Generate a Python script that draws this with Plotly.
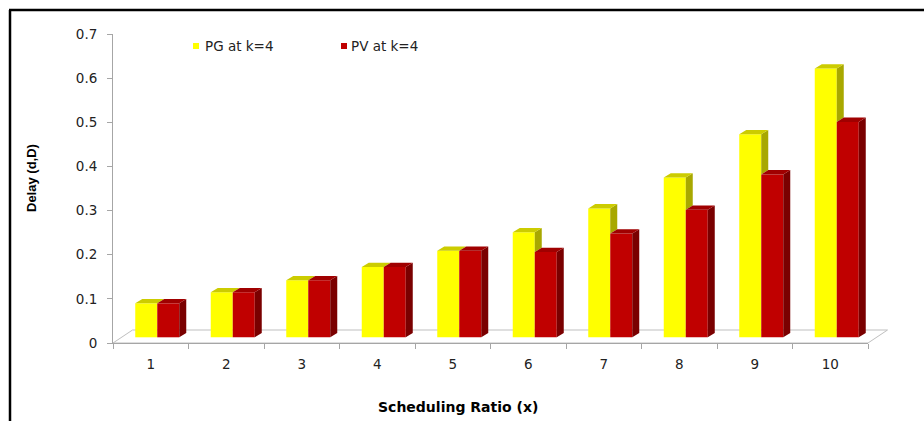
import plotly.graph_objects as go

# ---- data ----
categories = [1, 2, 3, 4, 5, 6, 7, 8, 9, 10]
series_names = ["PG at k=4", "PV at k=4"]
pg_delay = [0.077, 0.102, 0.129, 0.159, 0.196, 0.238, 0.292, 0.362, 0.460, 0.609]
pv_delay = [0.077, 0.102, 0.129, 0.159, 0.196, 0.193, 0.235, 0.289, 0.369, 0.488]
y_ticks = [0, 0.1, 0.2, 0.3, 0.4, 0.5, 0.6, 0.7]
y_tick_text = ["0", "0.1", "0.2", "0.3", "0.4", "0.5", "0.6", "0.7"]
x_title = "Scheduling Ratio (x)"
y_title = "Delay (d,D)"

# ---- colours (front, top, side) ----
PG_COLORS = ("#FFFF00", "#CCCC00", "#A8A800")
PV_COLORS = ("#C00000", "#A00000", "#7A0000")
AXIS_GRAY = "#A6A6A6"
TEXT_COLOR = "#222222"

# ---- page geometry ----
W, H = 924, 421
ML, MR, MT, MB = 113, 56, 34, 78
PW, PH = W - ML - MR, H - MT - MB
X_RANGE = [0.5, 10.5]
Y_RANGE = [0.0, 0.7]
ux = PW / (X_RANGE[1] - X_RANGE[0])   # pixels per x unit
uy = PH / (Y_RANGE[1] - Y_RANGE[0])   # pixels per y unit


def pxx(px):
    return (px - ML) / PW


def pxy(py):
    return (H - MB - py) / PH


def d2p(x, y):
    return ((x - X_RANGE[0]) / (X_RANGE[1] - X_RANGE[0]),
            (y - Y_RANGE[0]) / (Y_RANGE[1] - Y_RANGE[0]))


# pseudo-3D proportions (converted to axis units)
BAR_W = 22 / ux
SHIFT_X = 6.5 / ux
BASE = 5.7 / uy
DEPTH_X = 7 / ux
DEPTH_Y = 4.3 / uy
FLOOR_DX = 19.5 / ux
FLOOR_DY = 13 / uy

fig = go.Figure()


def face_trace(xs, ys, color):
    return go.Scatter(x=xs, y=ys, mode="lines", fill="toself", fillcolor=color,
                      line=dict(width=0, color=color), hoverinfo="skip",
                      showlegend=False)


def top_faces(lefts, values):
    xs, ys = [], []
    for xl, v in zip(lefts, values):
        t = BASE + v
        xr = xl + BAR_W
        xs += [xl, xr, xr + DEPTH_X, xl + DEPTH_X, xl, None]
        ys += [t, t, t + DEPTH_Y, t + DEPTH_Y, t, None]
    return xs, ys


def side_faces(lefts, values, lows):
    xs, ys = [], []
    for xl, v, lo in zip(lefts, values, lows):
        if v <= lo:
            continue
        xr = xl + BAR_W
        b, t = BASE + lo, BASE + v
        xs += [xr, xr, xr + DEPTH_X, xr + DEPTH_X, xr, None]
        ys += [b, t, t + DEPTH_Y, b + DEPTH_Y, b, None]
    return xs, ys


pg_left = [c + SHIFT_X - BAR_W for c in categories]
pv_left = [c + SHIFT_X for c in categories]

# front faces
fig.add_trace(go.Bar(x=categories, y=pg_delay, base=BASE, width=BAR_W,
                     offset=SHIFT_X - BAR_W, name=series_names[0],
                     marker=dict(color=PG_COLORS[0], line=dict(width=0)),
                     showlegend=False))
fig.add_trace(go.Bar(x=categories, y=pv_delay, base=BASE, width=BAR_W,
                     offset=SHIFT_X, name=series_names[1],
                     marker=dict(color=PV_COLORS[0], line=dict(width=0)),
                     showlegend=False))

# PG side only shows where it rises above the PV column
sx, sy = side_faces(pg_left, pg_delay, pv_delay)
fig.add_trace(face_trace(sx, sy, PG_COLORS[2]))
tx, ty = top_faces(pg_left, pg_delay)
fig.add_trace(face_trace(tx, ty, PG_COLORS[1]))
sx, sy = side_faces(pv_left, pv_delay, [0] * len(pv_delay))
fig.add_trace(face_trace(sx, sy, PV_COLORS[2]))
tx, ty = top_faces(pv_left, pv_delay)
fig.add_trace(face_trace(tx, ty, PV_COLORS[1]))

shapes = []

# floor parallelogram
corners = [(X_RANGE[0], 0), (X_RANGE[1], 0),
           (X_RANGE[1] + FLOOR_DX, FLOOR_DY), (X_RANGE[0] + FLOOR_DX, FLOOR_DY)]
pc = [d2p(x, y) for x, y in corners]
path = "M " + " L ".join(f"{a:.5f},{b:.5f}" for a, b in pc) + " Z"
shapes.append(dict(type="path", xref="paper", yref="paper", path=path,
                   fillcolor="white", line=dict(color="#BFBFBF", width=1),
                   layer="below"))

# outer frame (left and top edges)
shapes.append(dict(type="line", xref="paper", yref="paper",
                   x0=pxx(10), y0=pxy(10), x1=pxx(10), y1=pxy(430),
                   line=dict(color="black", width=2.5), layer="above"))
shapes.append(dict(type="line", xref="paper", yref="paper",
                   x0=pxx(9), y0=pxy(10), x1=pxx(935), y1=pxy(10),
                   line=dict(color="black", width=2.5), layer="above"))

# legend keys
annotations = []
legend_items = [(series_names[0], PG_COLORS[0], 193, 203),
                (series_names[1], PV_COLORS[0], 341, 349)]
for name, color, kx, tx0 in legend_items:
    shapes.append(dict(type="rect", xref="paper", yref="paper",
                       x0=pxx(kx), x1=pxx(kx + 6), y0=pxy(49), y1=pxy(43),
                       fillcolor=color, line=dict(width=0)))
    annotations.append(dict(xref="paper", yref="paper", x=pxx(tx0), y=pxy(46),
                            xanchor="left", yanchor="middle", showarrow=False,
                            text=name, font=dict(family="DejaVu Sans", size=13.5,
                                                 color=TEXT_COLOR)))

annotations.append(dict(xref="paper", yref="paper", x=pxx(458), y=pxy(407),
                        xanchor="center", yanchor="middle", showarrow=False,
                        text=x_title,
                        font=dict(family="DejaVu Sans", size=14, weight="bold",
                                  color="black")))
annotations.append(dict(xref="paper", yref="paper", x=pxx(31), y=pxy(178),
                        xanchor="center", yanchor="middle", showarrow=False,
                        textangle=-90, text=y_title,
                        font=dict(family="Liberation Sans", size=13, weight="bold",
                                  color="black")))

tick_font = dict(family="DejaVu Sans", size=13.5, color=TEXT_COLOR)

fig.update_layout(
    width=W, height=H,
    margin=dict(l=ML, r=MR, t=MT, b=MB, pad=0),
    paper_bgcolor="white", plot_bgcolor="white",
    barmode="overlay", showlegend=False,
    shapes=shapes, annotations=annotations,
    xaxis=dict(range=X_RANGE, tickmode="array", tickvals=categories,
               ticktext=[str(c) for c in categories], ticks="outside",
               ticklen=5, tickcolor="rgba(0,0,0,0)", tickfont=tick_font,
               showline=True, linecolor=AXIS_GRAY, linewidth=1,
               showgrid=False, zeroline=False, fixedrange=True,
               ticklabelstandoff=4,
               minor=dict(tickmode="array",
                          tickvals=[c - 0.5 for c in categories] + [categories[-1] + 0.5],
                          ticks="outside", ticklen=5, tickcolor=AXIS_GRAY,
                          showgrid=False)),
    yaxis=dict(range=Y_RANGE, tickmode="array", tickvals=y_ticks,
               ticktext=y_tick_text, ticks="outside", ticklen=5,
               tickcolor=AXIS_GRAY, tickfont=tick_font, showline=True,
               linecolor=AXIS_GRAY, linewidth=1, showgrid=False,
               zeroline=False, fixedrange=True, ticklabelstandoff=7),
)

fig.write_html("out.html")
